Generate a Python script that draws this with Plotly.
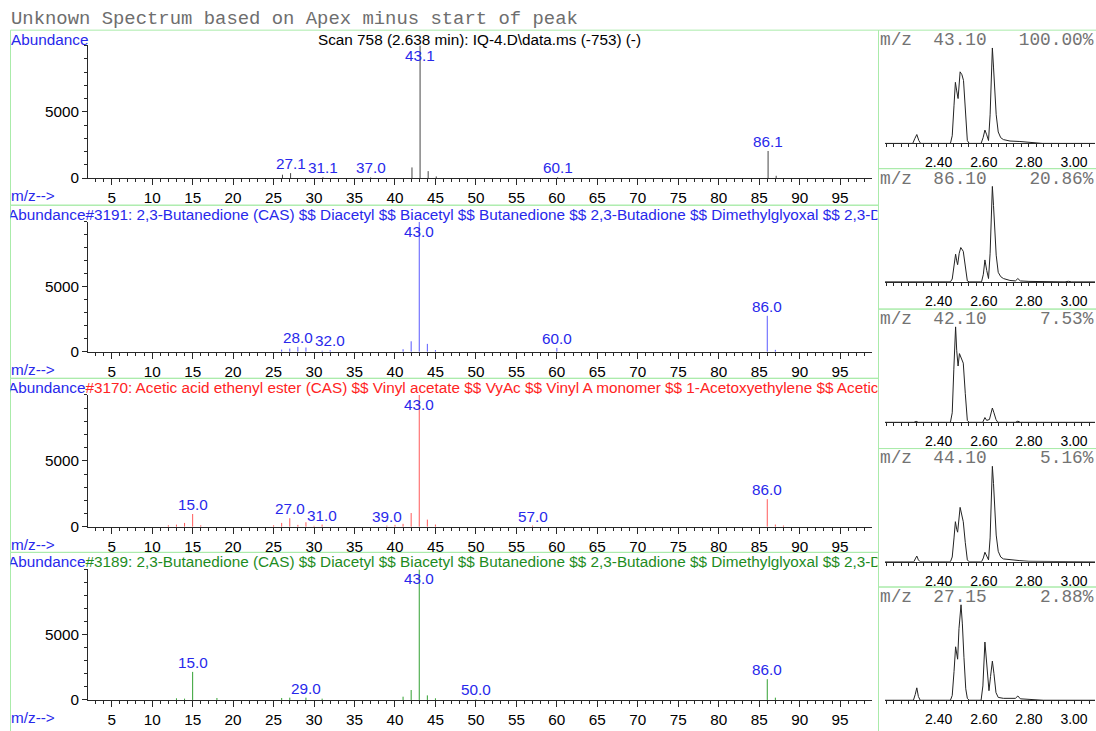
import plotly.graph_objects as go

W, H = 1096, 731

# ---------------- data ----------------
title_text = "Unknown Spectrum based on Apex minus start of peak"
scan_text = "Scan 758 (2.638 min): IQ-4.D\\data.ms (-753) (-)"

# Unknown spectrum (scan 758)
unk_mz = [26.1, 27.1, 31.1, 37.0, 42.1, 43.1, 44.1, 45.1, 60.1, 86.1, 87.1]
unk_ab = [250, 370, 60, 50, 800, 9999, 520, 120, 60, 2040, 170]
unk_labels = [27.1, 31.1, 37.0, 43.1, 60.1, 86.1]

# Library hit #3191
hit1_name = "#3191: 2,3-Butanedione (CAS) $$ Diacetyl $$ Biacetyl $$ Butanedione $$ 2,3-Butadione $$ Dimethylglyoxal $$ 2,3-Dioxobutane"
hit1_mz = [26, 27, 28, 29, 31, 32, 41, 42, 43, 44, 45, 60, 86, 87]
hit1_ab = [170, 250, 380, 330, 80, 120, 200, 810, 9999, 610, 130, 300, 2770, 150]
hit1_labels = [28.0, 32.0, 43.0, 60.0, 86.0]

# Library hit #3170
hit2_name = "#3170: Acetic acid ethenyl ester (CAS) $$ Vinyl acetate $$ VyAc $$ Vinyl A monomer $$ 1-Acetoxyethylene $$ Acetic acid vinyl ester"
hit2_mz = [12, 13, 14, 15, 16, 25, 26, 27, 28, 29, 30, 31, 39, 40, 41, 42, 43, 44, 45, 57, 86, 87, 88]
hit2_ab = [120, 170, 300, 975, 120, 120, 300, 650, 150, 350, 80, 175, 100, 150, 230, 1050, 9999, 550, 175, 100, 2100, 175, 100]
hit2_labels = [15.0, 27.0, 31.0, 39.0, 43.0, 57.0, 86.0]

# Library hit #3189
hit3_name = "#3189: 2,3-Butanedione (CAS) $$ Diacetyl $$ Biacetyl $$ Butanedione $$ 2,3-Butadione $$ Dimethylglyoxal $$ 2,3-Dioxobutane"
hit3_mz = [13, 14, 15, 18, 26, 27, 29, 31, 41, 42, 43, 44, 45, 50, 86, 87]
hit3_ab = [125, 100, 2150, 150, 150, 175, 175, 100, 250, 760, 9999, 350, 125, 40, 1590, 175]
hit3_labels = [15.0, 29.0, 43.0, 50.0, 86.0]

abund_ticks = [0, 5000]

# Extracted ion chromatograms (normalised)
chrom_mz = [43.10, 86.10, 42.10, 44.10, 27.15]
chrom_pct = [100.00, 20.86, 7.53, 5.16, 2.88]
time_ticks = [2.40, 2.60, 2.80, 3.00]

eicA_t = [2.162, 2.285, 2.294, 2.303, 2.312, 2.320, 2.452, 2.460, 2.468, 2.474, 2.480, 2.486, 2.495, 2.503,
          2.510, 2.518, 2.527, 2.535, 2.588, 2.597, 2.605, 2.613, 2.621, 2.628, 2.633, 2.638, 2.643, 2.649,
          2.655, 2.664, 2.675, 2.687, 2.716, 2.760, 2.805, 2.860, 3.093]
eicA_y = [0, 0, 0.05, 0.093, 0.03, 0, 0, 0.08, 0.40, 0.64, 0.55, 0.47, 0.75, 0.72,
          0.66, 0.35, 0.03, 0, 0, 0.06, 0.14, 0.09, 0.03, 0.30, 0.75, 1.0, 0.80, 0.55,
          0.30, 0.12, 0.06, 0.04, 0.025, 0.02, 0.012, 0, 0]

eicB_t = [2.162, 2.452, 2.460, 2.468, 2.475, 2.480, 2.484, 2.491, 2.498, 2.509, 2.518, 2.527, 2.535, 2.590,
          2.598, 2.605, 2.613, 2.621, 2.628, 2.633, 2.638, 2.643, 2.649, 2.655, 2.664, 2.675, 2.687, 2.716,
          2.740, 2.751, 2.762, 2.800, 2.960, 2.975, 2.990, 3.093]
eicB_y = [0, 0, 0.03, 0.17, 0.29, 0.22, 0.18, 0.30, 0.36, 0.32, 0.15, 0.01, 0, 0,
          0.08, 0.23, 0.12, 0.035, 0.30, 0.75, 1.0, 0.80, 0.55, 0.28, 0.10, 0.055, 0.035, 0.015,
          0.01, 0.035, 0.01, 0.005, 0, 0.006, 0, 0]

eicC_t = [2.162, 2.290, 2.300, 2.310, 2.452, 2.460, 2.467, 2.475, 2.480, 2.486, 2.492, 2.500, 2.509, 2.518,
          2.527, 2.535, 2.595, 2.605, 2.613, 2.625, 2.633, 2.638, 2.645, 2.654, 2.662, 2.740, 2.751, 2.762, 3.093]
eicC_y = [0, 0, 0.01, 0, 0, 0.10, 0.55, 1.0, 0.75, 0.59, 0.72, 0.68, 0.62, 0.30,
          0.02, 0, 0, 0.05, 0.02, 0.03, 0.11, 0.15, 0.10, 0.03, 0, 0, 0.012, 0, 0]

eicD_t = [2.162, 2.290, 2.296, 2.303, 2.310, 2.318, 2.452, 2.460, 2.468, 2.474, 2.480, 2.484, 2.495, 2.503,
          2.509, 2.518, 2.527, 2.535, 2.590, 2.598, 2.605, 2.613, 2.621, 2.628, 2.633, 2.638, 2.643, 2.649,
          2.655, 2.664, 2.675, 2.687, 2.716, 2.760, 2.800, 3.093]
eicD_y = [0, 0, 0.03, 0.06, 0.02, 0, 0, 0.05, 0.25, 0.42, 0.34, 0.31, 0.57, 0.50,
          0.42, 0.20, 0.02, 0, 0, 0.04, 0.10, 0.06, 0.02, 0.25, 0.70, 1.0, 0.82, 0.55,
          0.28, 0.11, 0.05, 0.03, 0.02, 0.012, 0.005, 0]

eicE_t = [2.162, 2.288, 2.296, 2.303, 2.310, 2.318, 2.452, 2.460, 2.468, 2.475, 2.484, 2.490, 2.499, 2.505,
          2.512, 2.520, 2.527, 2.535, 2.588, 2.596, 2.605, 2.613, 2.623, 2.630, 2.638, 2.645, 2.654, 2.664,
          2.687, 2.740, 2.751, 2.762, 2.800, 2.864, 3.093]
eicE_y = [0, 0, 0.06, 0.13, 0.04, 0, 0, 0.05, 0.30, 0.56, 0.43, 0.75, 1.0, 0.80,
          0.45, 0.12, 0.02, 0, 0, 0.15, 0.61, 0.40, 0.10, 0.25, 0.41, 0.28, 0.08, 0.03,
          0.02, 0.02, 0.045, 0.015, 0.008, 0, 0]

# ---------------- geometry (pixels) ----------------
def px_x(p):
    return p / W

def px_y(p):
    return 1 - p / H

BOX_GREEN = "rgb(170,235,170)"
LBL_BLUE = "rgb(40,40,235)"
AX_COL = "rgb(40,40,40)"
SANS = "Liberation Sans, Arial, sans-serif"
MONO = "Liberation Mono, Courier New, monospace"
FS = 15.3

LEFT_X0, LEFT_X1 = 10.5, 878.5
AX_X0, AX_X1 = 88, 872
box_tops = [30.5, 207.5, 382.5, 558.5]
box_bots = [207.5, 382.5, 558.5, 740]
base_px = [180, 355.7, 532.7, 707.7]
top_px = [46, 224.3, 399.3, 575.7]
mz_range = [2.07, 98.94]

RAX_X0, RAX_X1 = 885, 1095
rbox_tops = [30.5, 170.5, 312.5, 453.5, 593.5]
rbox_bots = [170.5, 312.5, 453.5, 593.5, 740]
t_range = [2.162, 3.093]

spectra = [
    (unk_mz, unk_ab, unk_labels, "rgb(70,70,70)", None, None),
    (hit1_mz, hit1_ab, hit1_labels, "rgb(90,90,255)", hit1_name, "rgb(40,40,235)"),
    (hit2_mz, hit2_ab, hit2_labels, "rgb(255,90,90)", hit2_name, "rgb(255,35,35)"),
    (hit3_mz, hit3_ab, hit3_labels, "rgb(50,160,50)", hit3_name, "rgb(30,140,30)"),
]
eics = [(eicA_t, eicA_y), (eicB_t, eicB_y), (eicC_t, eicC_y), (eicD_t, eicD_y), (eicE_t, eicE_y)]

fig = go.Figure()
layout = dict(
    width=W, height=H, margin=dict(l=0, r=0, t=0, b=0),
    paper_bgcolor="white", plot_bgcolor="rgba(0,0,0,0)",
    showlegend=False,
)
annotations = []
shapes = []

def stick_xy(mz, ab):
    xs, ys = [], []
    for m, a in zip(mz, ab):
        xs += [m, m, None]
        ys += [0, a, None]
    return xs, ys

ax_i = 0
# ---------- left spectrum panels ----------
for i, (mz, ab, labels, col, name, name_col) in enumerate(spectra):
    ax_i += 1
    xa = "xaxis" if ax_i == 1 else f"xaxis{ax_i}"
    ya = "yaxis" if ax_i == 1 else f"yaxis{ax_i}"
    xr = "x" if ax_i == 1 else f"x{ax_i}"
    yr = "y" if ax_i == 1 else f"y{ax_i}"
    layout[xa] = dict(
        domain=[px_x(AX_X0), px_x(AX_X1)], range=mz_range, anchor=yr,
        showgrid=False, zeroline=False, showline=True, linecolor=AX_COL, linewidth=1,
        ticks="outside", ticklen=6, tickcolor=AX_COL, tick0=0, dtick=5,
        minor=dict(ticks="outside", ticklen=3, tickcolor=AX_COL, tick0=0, dtick=1),
        tickfont=dict(family=SANS, size=FS, color="black"), fixedrange=True,
    )
    layout[ya] = dict(
        domain=[px_y(base_px[i]), px_y(top_px[i])], range=[0, 10000], anchor=xr,
        showgrid=False, zeroline=False, showline=True, linecolor=AX_COL, linewidth=1,
        ticks="outside", ticklen=5, tickcolor=AX_COL, tickmode="array", tickvals=abund_ticks,
        minor=dict(ticks="outside", ticklen=3, tickcolor=AX_COL, tickmode="linear", tick0=0, dtick=1000),
        tickfont=dict(family=SANS, size=FS, color="black"), fixedrange=True,
    )
    xs, ys = stick_xy(mz, ab)
    fig.add_trace(go.Scatter(x=xs, y=ys, mode="lines", line=dict(color=col, width=1),
                             xaxis=xr, yaxis=yr, hoverinfo="skip"))
    # peak labels
    for lab in labels:
        j = min(range(len(mz)), key=lambda k: abs(mz[k] - lab))
        a = ab[j]
        near_top = a > 0.9 * 10000
        annotations.append(dict(
            x=mz[j], y=a, xref=xr, yref=yr, text=f"{lab:.1f}", showarrow=False,
            xanchor="center", yanchor="top" if near_top else "bottom",
            font=dict(family=SANS, size=FS, color=LBL_BLUE), borderpad=0,
        ))
    # m/z--> label
    annotations.append(dict(
        x=px_x(10), y=px_y(base_px[i] + 17.5), xref="paper", yref="paper", text="m/z-->",
        showarrow=False, xanchor="left", yanchor="middle", borderpad=0,
        font=dict(family=SANS, size=FS, color=LBL_BLUE),
    ))
    # box
    shapes.append(dict(type="rect", xref="paper", yref="paper",
                       x0=px_x(LEFT_X0), x1=px_x(LEFT_X1), y0=px_y(box_bots[i]), y1=px_y(box_tops[i]),
                       line=dict(color=BOX_GREEN, width=1), layer="below"))

# ---------- right chromatogram panels ----------
for i, (t, y) in enumerate(eics):
    ax_i += 1
    xa, ya = f"xaxis{ax_i}", f"yaxis{ax_i}"
    xr, yr = f"x{ax_i}", f"y{ax_i}"
    base = rbox_tops[i] + 114.5
    peak = rbox_tops[i] + 18
    top = rbox_tops[i] + 14
    layout[xa] = dict(
        domain=[px_x(RAX_X0), px_x(RAX_X1)], range=t_range, anchor=yr,
        showgrid=False, zeroline=False, showline=True, linecolor=AX_COL, linewidth=1,
        ticks="outside", ticklen=3, tickcolor=AX_COL, tickmode="array", tickvals=time_ticks,
        ticktext=[f"{v:.2f}" for v in time_ticks], ticklabelstandoff=3,
        minor=dict(ticks="outside", ticklen=3, tickcolor=AX_COL, tickmode="linear", tick0=2.4, dtick=0.2 / 6),
        tickfont=dict(family=SANS, size=14, color="black"), fixedrange=True,
    )
    layout[ya] = dict(
        domain=[px_y(base), px_y(top)], range=[0, (base - top) / (base - peak)], anchor=xr,
        visible=False, fixedrange=True,
    )
    fig.add_trace(go.Scatter(x=t, y=y, mode="lines", line=dict(color="rgb(35,35,35)", width=1),
                             xaxis=xr, yaxis=yr, hoverinfo="skip"))
    nb = "\u00a0"
    txt = f"m/z{nb*2}{chrom_mz[i]:.2f}{nb*3}{chrom_pct[i]:6.2f}%".replace(" ", nb)
    annotations.append(dict(
        x=px_x(879), y=px_y(rbox_tops[i] + 10), xref="paper", yref="paper", text=txt,
        showarrow=False, xanchor="left", yanchor="middle", borderpad=0,
        font=dict(family=MONO, size=17.8, color="rgb(115,115,115)"),
    ))
    shapes.append(dict(type="rect", xref="paper", yref="paper",
                       x0=px_x(878.5), x1=px_x(1100), y0=px_y(rbox_bots[i]), y1=px_y(rbox_tops[i]),
                       line=dict(color=BOX_GREEN, width=1), layer="below"))

# ---------- headers of spectrum panels (clipped to panel width) ----------
for i, (mz, ab, labels, col, name, name_col) in enumerate(spectra):
    if name is None:
        continue
    ax_i += 1
    xa, ya = f"xaxis{ax_i}", f"yaxis{ax_i}"
    xr, yr = f"x{ax_i}", f"y{ax_i}"
    layout[xa] = dict(domain=[px_x(LEFT_X0), px_x(LEFT_X1 - 1)], range=[0, LEFT_X1 - 1 - LEFT_X0],
                      anchor=yr, visible=False, fixedrange=True)
    layout[ya] = dict(domain=[px_y(box_tops[i] + 19), px_y(box_tops[i] + 0.5)], range=[0, 1],
                      anchor=xr, visible=False, fixedrange=True)
    fig.add_trace(go.Scatter(
        x=[-2.5], y=[0.42], mode="text",
        text=[f"<span style='color:{LBL_BLUE}'>Abundance</span>{name}"],
        textposition="middle right", cliponaxis=True,
        textfont=dict(family=SANS, size=FS, color=name_col),
        xaxis=xr, yaxis=yr, hoverinfo="skip"))

# top-level texts
annotations.append(dict(
    x=px_x(9.5), y=px_y(19), xref="paper", yref="paper", text=title_text.replace(" ", "\u00a0"),
    showarrow=False, xanchor="left", yanchor="middle", borderpad=0,
    font=dict(family=MONO, size=18.9, color="rgb(110,110,110)"),
))
annotations.append(dict(
    x=px_x(10), y=px_y(39.5), xref="paper", yref="paper", text="Abundance",
    showarrow=False, xanchor="left", yanchor="middle", borderpad=0,
    font=dict(family=SANS, size=FS, color=LBL_BLUE),
))
annotations.append(dict(
    x=px_x(479.5), y=px_y(39.5), xref="paper", yref="paper", text=scan_text,
    showarrow=False, xanchor="center", yanchor="middle", borderpad=0,
    font=dict(family=SANS, size=FS, color="black"),
))

layout["annotations"] = annotations
layout["shapes"] = shapes
fig.update_layout(**layout)
fig.write_html("out.html")
